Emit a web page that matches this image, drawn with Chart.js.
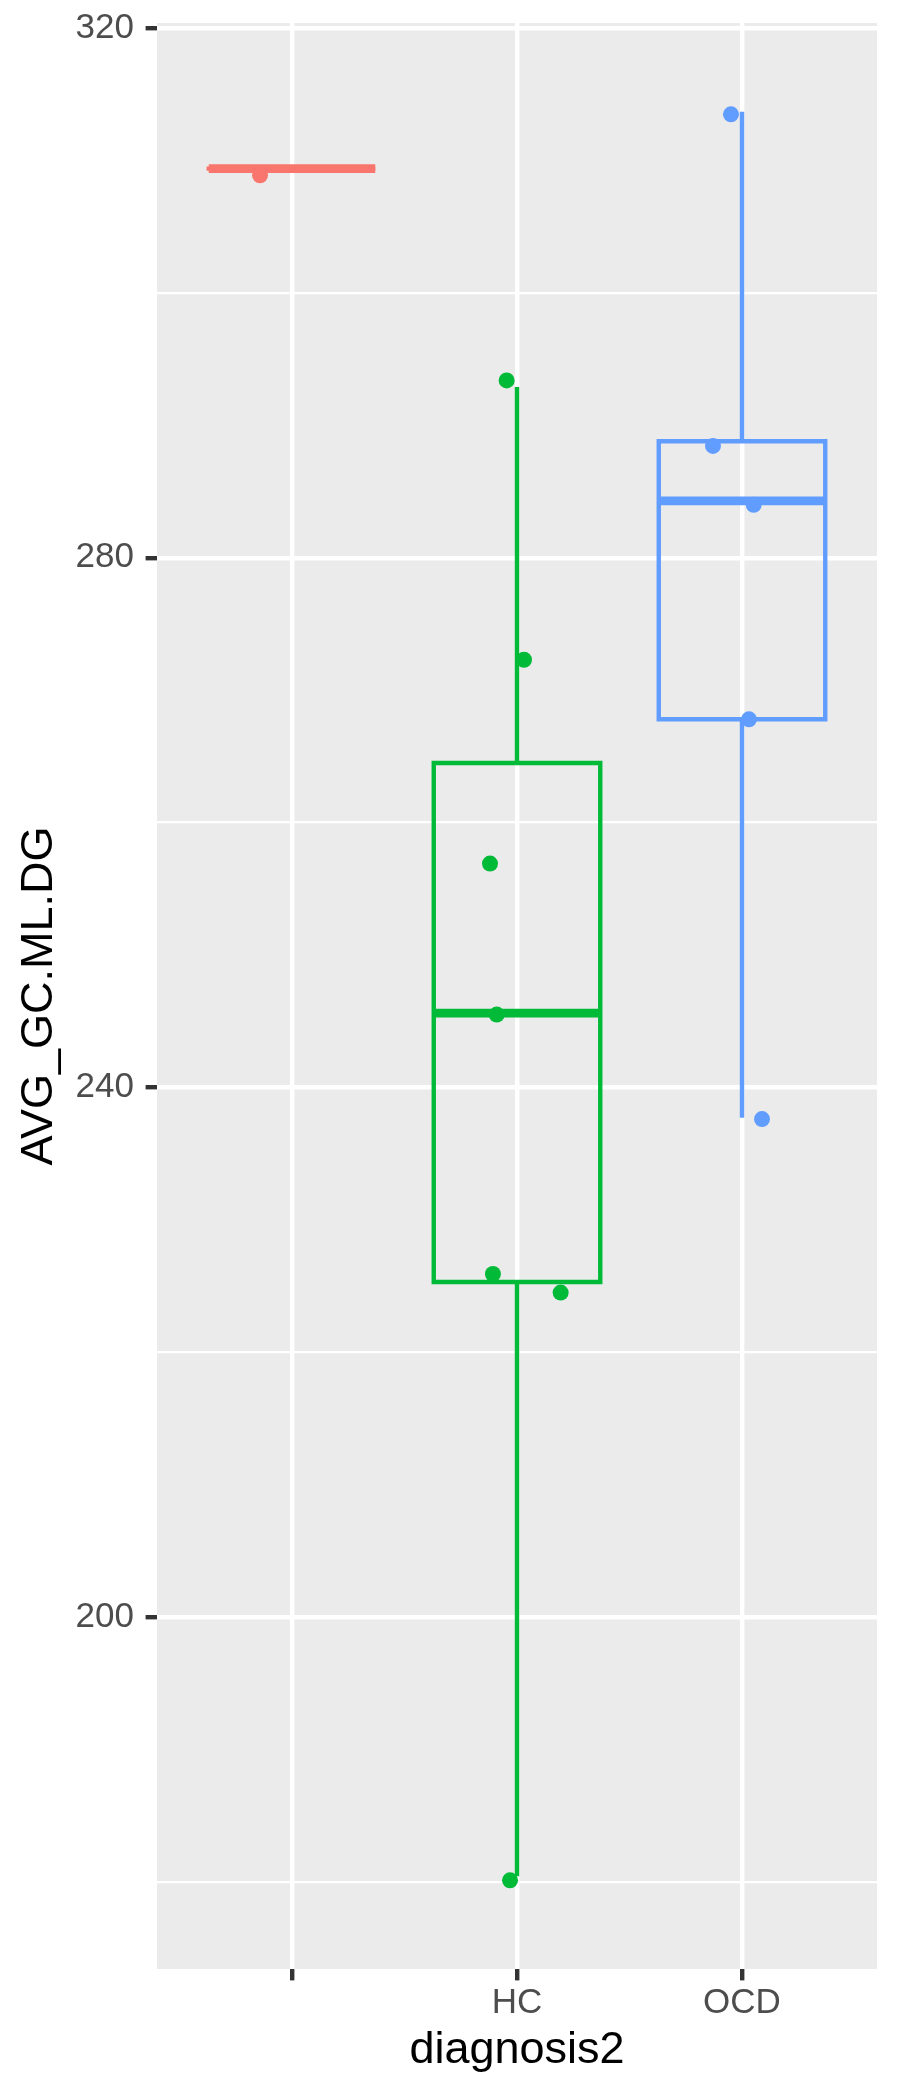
<!DOCTYPE html>
<html><head><meta charset="utf-8">
<script src="https://cdn.jsdelivr.net/npm/chart.js@4/dist/chart.umd.min.js"></script>
<style>html,body{margin:0;padding:0;background:#fff}#wrap{width:900px;height:2100px;position:relative}</style>
</head><body><div id="wrap"><canvas id="c"></canvas></div>
<script>
// ---- data ----
const categories = ['', 'HC', 'OCD'];
const groupColors = ['#F8766D', '#00BA38', '#619CFF'];
const whiskerLow = [309.4, 180.4, 237.7];
const boxQ1 = [309.4, 225.3, 267.8];
const boxMedian = [309.4, 245.6, 284.3];
const boxQ3 = [309.4, 264.5, 288.8];
const whiskerHigh = [309.4, 292.9, 313.7];
const valuesGroup1 = [308.9];
const jitterGroup1 = [-0.142];
const valuesHC = [293.4, 272.3, 256.9, 245.5, 225.9, 224.5, 180.1];
const jitterHC = [-0.046, 0.031, -0.12, -0.09, -0.107, 0.194, -0.031];
const valuesOCD = [313.5, 288.45, 284.0, 267.8, 237.6];
const jitterOCD = [-0.049, -0.129, 0.052, 0.031, 0.089];
const yMajorTicks = [200, 240, 280, 320];
const yMinorTicks = [180, 220, 260, 300];
const yTitle = 'AVG_GC.ML.DG';
const xTitle = 'diagnosis2';

// ---- styling constants ----
const BOX_HALF = 0.37;
const LINE_W = 4.4;
const FONT = "'Liberation Sans', Arial, sans-serif";
const groupValues = [valuesGroup1, valuesHC, valuesOCD];
const groupJitter = [jitterGroup1, jitterHC, jitterOCD];

const datasets = [];
categories.forEach((cat, i) => {
  const x = i + 1;
  const col = groupColors[i];
  const lineBase = {showLine: true, pointRadius: 0, pointHoverRadius: 0, borderColor: col,
    backgroundColor: col, borderWidth: LINE_W, fill: false, tension: 0, order: 2};
  // box outline
  datasets.push(Object.assign({}, lineBase, {
    borderCapStyle: 'square', borderJoinStyle: 'miter',
    data: [{x: x - BOX_HALF, y: boxQ1[i]}, {x: x + BOX_HALF, y: boxQ1[i]},
           {x: x + BOX_HALF, y: boxQ3[i]}, {x: x - BOX_HALF, y: boxQ3[i]},
           {x: x - BOX_HALF, y: boxQ1[i]}]
  }));
  // median
  datasets.push(Object.assign({}, lineBase, {
    borderWidth: LINE_W * 2, borderCapStyle: 'butt',
    data: [{x: x - BOX_HALF, y: boxMedian[i]}, {x: x + BOX_HALF, y: boxMedian[i]}]
  }));
  // whiskers
  datasets.push(Object.assign({}, lineBase, {borderCapStyle: 'butt',
    data: [{x: x, y: whiskerLow[i]}, {x: x, y: boxQ1[i]}]}));
  datasets.push(Object.assign({}, lineBase, {borderCapStyle: 'butt',
    data: [{x: x, y: boxQ3[i]}, {x: x, y: whiskerHigh[i]}]}));
  // jittered points
  datasets.push({
    showLine: false, pointRadius: 8, pointHoverRadius: 8, pointBorderWidth: 0,
    backgroundColor: col, borderColor: col, order: 1,
    data: groupValues[i].map((v, k) => ({x: x + groupJitter[i][k], y: v}))
  });
});

const panelBg = {
  id: 'panelBg',
  beforeDraw(chart) {
    const {ctx, chartArea: a} = chart;
    ctx.save();
    ctx.fillStyle = '#ffffff';
    ctx.fillRect(0, 0, chart.width, chart.height);
    ctx.fillStyle = '#EBEBEB';
    ctx.fillRect(a.left, a.top, a.right - a.left, a.bottom - a.top);
    ctx.restore();
  }
};

const isMajor = v => yMajorTicks.includes(v);

new Chart(document.getElementById('c'), {
  type: 'scatter',
  data: {datasets},
  plugins: [panelBg],
  options: {
    responsive: true, maintainAspectRatio: false, animation: false, devicePixelRatio: 1,
    layout: {padding: {left: 0, right: 23, top: 23, bottom: 0}},
    plugins: {legend: {display: false}, tooltip: {enabled: false}},
    events: [],
    scales: {
      x: {
        type: 'linear', min: 0.4, max: 3.6,
        afterBuildTicks: s => { s.ticks = categories.map((c, i) => ({value: i + 1})); },
        afterFit: s => { s.height = 131; s.paddingLeft = 0; s.paddingRight = 0; s.paddingTop = 0; s.paddingBottom = 0; },
        ticks: {
          callback: v => categories[v - 1] ?? '',
          autoSkip: false, maxRotation: 0, minRotation: 0,
          color: '#4D4D4D', padding: 5,
          font: {family: FONT, size: 35, lineHeight: 1}
        },
        grid: {color: '#ffffff', lineWidth: LINE_W, drawTicks: true, tickLength: 11.4,
               tickWidth: LINE_W, tickColor: '#333333'},
        border: {display: false},
        title: {display: true, text: xTitle, color: '#000000',
                font: {family: FONT, size: 45, lineHeight: 1},
                padding: {top: 0, bottom: 26.5}}
      },
      y: {
        type: 'linear', min: 173.4, max: 320.4,
        afterBuildTicks: s => { s.ticks = yMinorTicks.concat(yMajorTicks).sort((a, b) => a - b).map(v => ({value: v})); },
        afterFit: s => { s.width = 157; s.paddingLeft = 0; s.paddingRight = 0; s.paddingTop = 0; s.paddingBottom = 0; },
        ticks: {
          callback: v => isMajor(v) ? String(v) : '',
          autoSkip: false, color: '#4D4D4D', padding: 11.6,
          font: {family: FONT, size: 35, lineHeight: 1}
        },
        grid: {
          color: '#ffffff',
          lineWidth: ctx => (ctx.tick && isMajor(ctx.tick.value)) ? LINE_W : LINE_W / 2,
          drawTicks: true, tickLength: 11.4, tickWidth: LINE_W,
          tickColor: ctx => (ctx.tick && isMajor(ctx.tick.value)) ? '#333333' : 'rgba(0,0,0,0)'
        },
        border: {display: false},
        title: {display: true, text: yTitle, color: '#000000',
                font: {family: FONT, size: 45, lineHeight: 1},
                padding: {top: 17, bottom: 0}}
      }
    }
  }
});
</script></body></html>
